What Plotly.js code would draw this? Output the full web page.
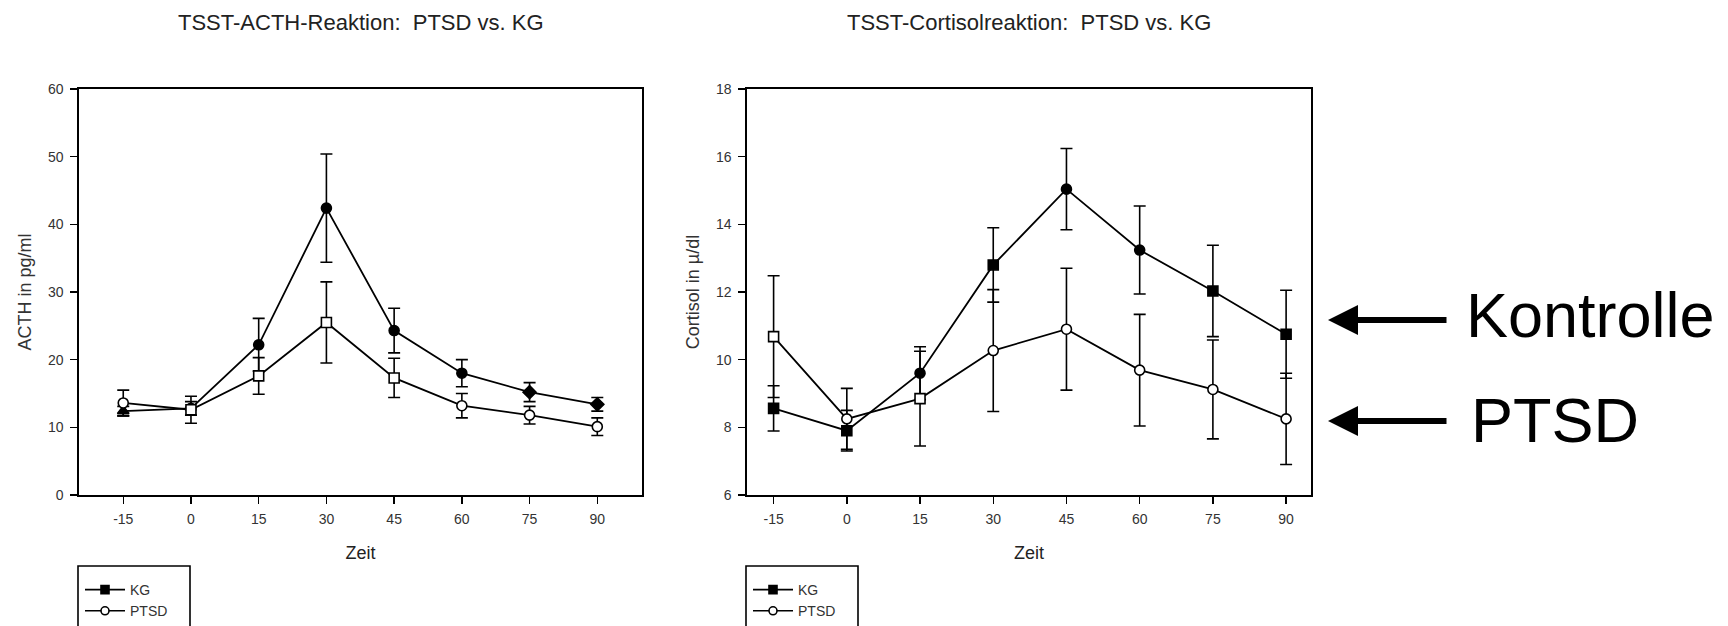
<!DOCTYPE html>
<html>
<head>
<meta charset="utf-8">
<script src="https://cdn.plot.ly/plotly-3.0.1.min.js"></script>
<style>html,body{margin:0;padding:0;background:#fff;}#chart{width:1728px;height:626px;}</style>
</head>
<body>
<div id="chart"></div>
<script>
// ---- data ----
const zeit = [-15, 0, 15, 30, 45, 60, 75, 90];
const acthKG = [12.4, 12.8, 22.2, 42.4, 24.3, 18.0, 15.2, 13.4];
const acthKGErr = [0.7, 1.0, 3.9, 8.0, 3.3, 2.0, 1.4, 1.0];
const acthPTSD = [13.6, 12.6, 17.6, 25.5, 17.3, 13.2, 11.8, 10.1];
const acthPTSDErr = [1.9, 2.0, 2.7, 6.0, 2.9, 1.8, 1.3, 1.3];
const cortKG = [8.56, 7.9, 9.6, 12.8, 15.04, 13.24, 12.03, 10.75];
const cortKGErr = [0.67, 0.6, 0.78, 1.1, 1.2, 1.3, 1.35, 1.3];
const cortPTSD = [10.68, 8.25, 8.85, 10.27, 10.9, 9.69, 9.12, 8.25];
const cortPTSDErr = [1.8, 0.9, 1.4, 1.8, 1.8, 1.65, 1.46, 1.35];
const xTicks = [-15, 0, 15, 30, 45, 60, 75, 90];
const acthTicks = [0, 10, 20, 30, 40, 50, 60];
const cortTicks = [6, 8, 10, 12, 14, 16, 18];
const seriesNames = ['KG', 'PTSD'];
const titles = ['TSST-ACTH-Reaktion:  PTSD vs. KG', 'TSST-Cortisolreaktion:  PTSD vs. KG'];
const yTitles = ['ACTH in pg/ml', 'Cortisol in \u00b5/dl'];
const xTitle = 'Zeit';
const sideLabels = ['Kontrolle', 'PTSD'];

// ---- styling ----
const W = 1728, H = 626;
const FONT = 'Liberation Sans, Arial, sans-serif';
const px = v => v / W, py = v => 1 - v / H;
const symActhKG = ['triangle-up','circle','circle','circle','circle','circle','diamond','diamond'];
const symActhPT = ['circle','square','square','square','square','circle','circle','circle'];
const symCortKG = ['square','square','circle','square','circle','circle','square','square'];
const symCortPT = ['square','circle','square','circle','circle','circle','circle','circle'];

function series(x, y, err, sym, filled, xa, ya) {
  return {
    type: 'scatter', mode: 'lines+markers', x: x, y: y, xaxis: xa, yaxis: ya,
    showlegend: false, cliponaxis: false,
    line: {color: '#000', width: 1.8},
    marker: {symbol: sym, size: 10, color: filled ? '#000' : '#fff', line: {color: '#000', width: 1.6}},
    error_y: {type: 'data', array: err, visible: true, color: '#000', thickness: 1.6, width: 6}
  };
}
function legendTrace(name, filled, leg) {
  return {
    type: 'scatter', mode: 'lines+markers', x: [null], y: [null], name: name, legend: leg,
    xaxis: leg === 'legend' ? 'x' : 'x2', yaxis: leg === 'legend' ? 'y' : 'y2',
    line: {color: '#000', width: 1.6},
    marker: {symbol: filled ? 'square' : 'circle', size: 8, color: filled ? '#000' : '#fff', line: {color: '#000', width: 1.6}}
  };
}

const traces = [
  series(zeit, acthKG, acthKGErr, symActhKG, true, 'x', 'y'),
  series(zeit, acthPTSD, acthPTSDErr, symActhPT, false, 'x', 'y'),
  series(zeit, cortKG, cortKGErr, symCortKG, true, 'x2', 'y2'),
  series(zeit, cortPTSD, cortPTSDErr, symCortPT, false, 'x2', 'y2'),
  legendTrace(seriesNames[0], true, 'legend'),
  legendTrace(seriesNames[1], false, 'legend'),
  legendTrace(seriesNames[0], true, 'legend2'),
  legendTrace(seriesNames[1], false, 'legend2')
];

const yDom = [py(495), py(89)];
function xaxis(dom, range) {
  return {
    domain: dom, range: range, tickvals: xTicks, ticktext: xTicks.map(String),
    showline: true, mirror: true, linecolor: '#000', linewidth: 1.6,
    ticks: 'outside', ticklen: 7, tickwidth: 1.5, tickcolor: '#000',
    showgrid: false, zeroline: false, ticklabelstandoff: 4,
    tickfont: {family: FONT, size: 14, color: '#333'},
    title: {text: xTitle, font: {family: FONT, size: 18, color: '#222'}, standoff: 20}
  };
}
function yaxis(anchor, range, ticks, title) {
  return {
    domain: yDom, anchor: anchor, range: range, tickvals: ticks, ticktext: ticks.map(String),
    showline: true, mirror: true, linecolor: '#000', linewidth: 1.6,
    ticks: 'outside', ticklen: 7, tickwidth: 1.5, tickcolor: '#000',
    showgrid: false, zeroline: false, ticklabelstandoff: 4,
    tickfont: {family: FONT, size: 14, color: '#333'},
    title: {text: title, font: {family: FONT, size: 18, color: '#333'}, standoff: 12}
  };
}

const d1 = [px(79), px(642)], d2 = [px(747), px(1311)];
const annotations = [
  {xref: 'paper', yref: 'paper', x: (d1[0] + d1[1]) / 2, y: py(22), text: titles[0], showarrow: false,
   xanchor: 'center', yanchor: 'middle', font: {family: FONT, size: 22, color: '#222'}},
  {xref: 'paper', yref: 'paper', x: (d2[0] + d2[1]) / 2, y: py(22), text: titles[1], showarrow: false,
   xanchor: 'center', yanchor: 'middle', font: {family: FONT, size: 22, color: '#222'}},
  {xref: 'paper', yref: 'paper', x: px(1464), y: py(315), text: sideLabels[0], showarrow: false,
   xanchor: 'left', yanchor: 'middle', font: {family: FONT, size: 63, color: '#000'}},
  {xref: 'paper', yref: 'paper', x: px(1469), y: py(420), text: sideLabels[1], showarrow: false,
   xanchor: 'left', yanchor: 'middle', font: {family: FONT, size: 63, color: '#000'}},
  {xref: 'paper', yref: 'paper', x: px(1328), y: py(320), ax: 120, ay: 0, axref: 'pixel', ayref: 'pixel',
   text: '', showarrow: true, arrowhead: 2, arrowsize: 1, arrowwidth: 6, arrowcolor: '#000', standoff: 0, startstandoff: 0},
  {xref: 'paper', yref: 'paper', x: px(1328), y: py(421), ax: 120, ay: 0, axref: 'pixel', ayref: 'pixel',
   text: '', showarrow: true, arrowhead: 2, arrowsize: 1, arrowwidth: 6, arrowcolor: '#000', standoff: 0, startstandoff: 0}
];

const shapes = [
  {type: 'rect', xref: 'paper', yref: 'paper', x0: px(78), x1: px(190), y0: py(566), y1: py(680), line: {color: '#000', width: 1.6}},
  {type: 'rect', xref: 'paper', yref: 'paper', x0: px(746), x1: px(858), y0: py(566), y1: py(680), line: {color: '#000', width: 1.6}}
];

function legend(x) {
  return {x: x, y: py(574), xref: 'paper', yref: 'paper', xanchor: 'left', yanchor: 'top',
    bgcolor: 'rgba(0,0,0,0)', borderwidth: 0, itemwidth: 40, tracegroupgap: 0,
    font: {family: FONT, size: 14, color: '#333'}};
}

const layout = {
  width: W, height: H,
  margin: {l: 0, r: 0, t: 0, b: 0, autoexpand: false},
  paper_bgcolor: '#fff', plot_bgcolor: '#fff',
  font: {family: FONT},
  xaxis: xaxis(d1, [-24.8, 99.9]),
  yaxis: yaxis('x', [0, 60], acthTicks, yTitles[0]),
  xaxis2: xaxis(d2, [-20.45, 95.1]),
  yaxis2: yaxis('x2', [6, 18], cortTicks, yTitles[1]),
  showlegend: true,
  legend: legend(px(80)),
  legend2: legend(px(748)),
  annotations: annotations,
  shapes: shapes
};

Plotly.newPlot('chart', traces, layout, {displayModeBar: false, staticPlot: true});
</script>
</body>
</html>
